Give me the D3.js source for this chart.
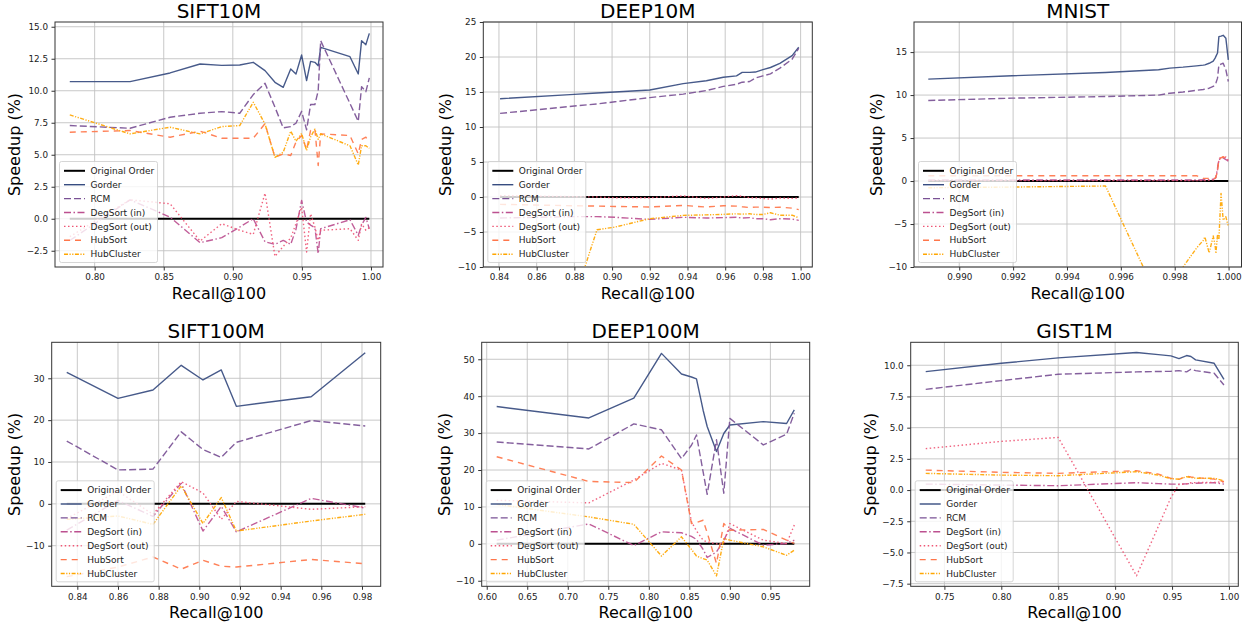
<!DOCTYPE html>
<html><head><meta charset="utf-8">
<script src="https://cdn.jsdelivr.net/npm/d3@7"></script>
<style>body{margin:0;background:#fff}svg{display:block;font-family:"DejaVu Sans",sans-serif}</style>
</head><body><svg id="c" width="1243" height="630"></svg>
<script>
// ---------- legend / series ----------
const methods = ["Original Order","Gorder","RCM","DegSort (in)","DegSort (out)","HubSort","HubCluster"];
const colors  = ["#000000","#374c80","#7a5195","#bc5090","#ef5675","#ff764a","#ffa600"];
const dashes  = [null,null,"7,3","7,2.5,1.5,2.5","1.5,2.5","6,5","4,1.5,1.2,1.5,1.2,1.5"];
const widths  = [2,1.4,1.4,1.4,1.4,1.4,1.4];

// ---------- SIFT10M ----------
const sift10m_x = [0.782,0.8256,0.8546,0.8763,0.892,0.905,0.9148,0.9233,0.9305,0.9365,0.9419,0.9457,0.9498,0.9534,0.9563,0.9594,0.9618,0.9636,0.9848,0.9908,0.9932,0.9963,0.9988];
const sift10m_gorder = [10.71,10.71,11.39,12.09,11.98,12.01,12.22,11.57,10.66,10.27,11.7,11.3,12.79,10.79,12.29,12.22,11.96,13.39,12.66,11.31,13.91,13.6,14.48];
const sift10m_rcm = [7.28,7.07,7.93,8.24,8.37,8.24,9.7,10.58,8.71,7.1,7.2,7.46,8.39,6.94,8.92,8.92,10.0,13.91,9.0,7.61,10.32,9.93,11.0];
const sift10m_degin = [-1.7,1.48,0.13,-1.87,-1.48,-0.65,0,-1.8,-2.0,-1.69,-2.0,-0.83,1.43,-0.26,-0.5,-0.7,-2.73,-0.78,-0.08,-1.3,-0.5,0.1,-0.78];
const sift10m_degout = [-1.4,1.48,1.17,-1.74,-0.39,-0.9,-1.22,2.0,-2.94,-2.16,-1.5,-0.39,0.9,-2.6,0.39,-0.65,-1.69,-0.9,-0.78,-1.69,-0.4,-0.9,-0.7];
const sift10m_hubsort = [6.76,6.89,6.37,6.84,6.29,6.29,6.29,7.43,4.8,5.07,4.94,6.0,6.5,5.4,6.9,7.0,4.16,6.63,6.5,5.07,6.2,6.37,5.98];
const sift10m_hubcluster = [8.11,6.63,7.15,6.63,7.2,7.28,9.1,7.4,4.8,5.2,6.84,6.06,6.66,5.33,6.39,7.0,6.2,6.63,5.7,4.2,5.7,5.7,5.5];
const sift10m_xticks = [0.80,0.85,0.90,0.95,1.00];
const sift10m_yticks = [-2.5,0,2.5,5,7.5,10,12.5,15];

// ---------- DEEP10M ----------
const deep10m_x = [0.8406,0.88,0.892,0.9015,0.92,0.9377,0.95,0.959,0.966,0.969,0.973,0.976,0.98,0.984,0.989,0.9955,0.999];
const deep10m_gorder = [14.04,14.66,14.85,15.0,15.28,16.2,16.6,17.1,17.3,17.8,17.8,17.85,18.2,18.5,19.1,20.2,21.4];
const deep10m_rcm = [11.94,13.0,13.3,13.6,14.2,14.7,15.2,15.8,16.1,16.4,16.5,17.0,17.3,17.6,18.4,19.7,21.25];
const deep10m_degin = [-3.0,-2.8,-2.8,-2.9,-3.2,-2.9,-3.0,-2.95,-2.9,-3.0,-2.95,-3.1,-3.1,-3.25,-3.1,-3.15,-3.34];
const deep10m_degout = [0.2,0.05,0.0,-0.1,-0.1,0.15,-0.2,0.0,0.2,0.1,-0.1,-0.1,-0.2,-0.3,-0.15,-0.2,-0.15];
const deep10m_hubsort = [-1.05,-1.25,-1.3,-1.35,-1.43,-1.2,-1.43,-1.25,-1.3,-1.4,-1.5,-1.45,-1.45,-1.5,-1.45,-1.6,-1.8];
const deep10m_hubcluster = [-22,-14.6,-4.68,-4.3,-3.1,-2.63,-2.55,-2.48,-2.4,-2.45,-2.4,-2.5,-2.5,-2.25,-2.6,-2.6,-2.96];
const deep10m_xticks = [0.84,0.86,0.88,0.90,0.92,0.94,0.96,0.98,1.00];
const deep10m_yticks = [-10,-5,0,5,10,15,20,25];

// ---------- MNIST ----------
const mnist_x = [0.98885,0.99196,0.99543,0.9974,0.99782,0.99831,0.99881,0.99906,0.99912,0.99928,0.99943,0.9995,0.99953,0.99959,0.99964,0.99972,0.9998,0.9999,0.99999];
const mnist_gorder = [11.85,12.24,12.63,12.94,13.14,13.25,13.4,13.48,13.52,13.7,13.95,14.3,14.5,14.9,16.8,16.85,16.95,16.6,14.1];
const mnist_rcm = [9.37,9.64,9.83,10.0,10.22,10.35,10.55,10.65,10.69,10.8,11.0,11.2,11.4,11.97,13.5,13.6,13.7,12.94,11.58];
const mnist_degin = [0.12,0.12,0.12,0.12,0.12,0.12,0.12,0.15,0.15,0.15,0.2,0.3,0.5,1.5,2.5,2.6,2.7,2.5,2.3];
const mnist_degout = [0.05,0.05,0.05,0.05,0.05,0.05,0.05,0.05,0.05,0.1,0.15,0.25,0.4,1.3,2.4,2.9,2.6,2.8,2.4];
const mnist_hubsort = [0.62,0.62,0.62,0.62,0.62,0.62,0.62,0.31,0.31,0.31,0.31,0.31,0.5,1.09,2.53,2.7,2.84,2.6,2.45];
const mnist_hubcluster = [-0.78,-0.7,-0.58,-13.8,-12.1,-10,-7.8,-6.9,-6.5,-8.36,-6.38,-7.5,-8.43,-6.2,-6.8,-1.43,-4.55,-4.16,-5.3];
const mnist_xticks = [0.990,0.992,0.994,0.996,0.998,1.000];
const mnist_yticks = [-10,-5,0,5,10,15];

// ---------- SIFT100M ----------
const sift100m_x = [0.8348,0.86,0.8772,0.8911,0.9018,0.9108,0.9182,0.955,0.9816];
const sift100m_gorder = [31.4,25.2,27.2,33.1,29.6,32.0,23.3,25.6,36.1];
const sift100m_rcm = [15.0,8.1,8.3,17.2,13.0,11.1,14.7,19.9,18.6];
const sift100m_degin = [-6.3,0.8,-3.0,4.9,-6.5,-0.6,-6.7,1.3,-1.0];
const sift100m_degout = [-3.5,3.0,-2.5,5.3,2.6,-3.7,0.6,-1.3,-0.7];
const sift100m_hubsort = [-17.4,-15.1,-12.7,-15.6,-13.5,-14.9,-15.1,-13.3,-14.3];
const sift100m_hubcluster = [-3.7,-2.9,-4.9,4.3,-4.7,1.5,-6.5,-4.1,-2.5];
const sift100m_xticks = [0.84,0.86,0.88,0.90,0.92,0.94,0.96,0.98];
const sift100m_yticks = [-10,0,10,20,30];

// ---------- DEEP100M ----------
const deep100m_x = [0.6123,0.726,0.7815,0.8156,0.8403,0.8526,0.8588,0.867,0.872,0.8835,0.8925,0.90,0.9412,0.97,0.9795];
const deep100m_gorder = [37.2,34.1,39.5,51.6,46.0,45.2,44.7,36.2,31.8,25.0,29.9,32.2,33.1,32.6,36.3];
const deep100m_rcm = [27.6,25.7,32.5,30.9,23.1,26.7,29.5,19.5,13.4,28.2,13.7,34.0,26.8,29.7,35.4];
const deep100m_degin = [1.0,5.4,-0.45,3.25,3.0,2.0,1.2,-1.5,-3.7,-2.2,1.0,4.2,-0.36,0.1,1.0];
const deep100m_degout = [11.8,11.1,17.3,21.8,20.0,6.0,3.5,1.0,0.5,0.0,0.1,5.5,1.0,0.1,5.1];
const deep100m_hubsort = [23.6,16.9,16.6,23.8,20.0,5.5,5.8,6.4,3.0,-5.3,5.5,3.7,3.9,1.0,0.1];
const deep100m_hubcluster = [10.7,7.3,5.3,-3.3,1.9,-1.5,-3.3,-4.0,-4.4,-8.7,1.4,1.0,-0.8,-3.1,-1.7];
const deep100m_xticks = [0.60,0.65,0.70,0.75,0.80,0.85,0.90,0.95];
const deep100m_yticks = [-10,0,10,20,30,40,50];

// ---------- GIST1M ----------
const gist1m_x = [0.7336,0.80,0.85,0.9188,0.938,0.949,0.9561,0.9628,0.9666,0.9707,0.987,0.9956];
const gist1m_gorder = [9.49,10.16,10.59,11.02,10.85,10.75,10.53,10.78,10.7,10.43,10.16,8.87];
const gist1m_rcm = [8.07,8.77,9.28,9.47,9.5,9.52,9.57,9.47,9.68,9.57,9.36,8.42];
const gist1m_degin = [0.48,0.4,0.35,0.59,0.52,0.48,0.48,0.5,0.53,0.55,0.59,0.48];
const gist1m_degout = [3.32,3.9,4.22,-6.87,-2.9,-0.6,0.45,0.5,0.59,0.6,0.62,0.67];
const gist1m_hubsort = [1.6,1.42,1.34,1.55,1.28,0.94,0.86,1.12,1.05,1.0,0.88,0.67];
const gist1m_hubcluster = [1.34,1.2,1.15,1.47,1.2,0.91,0.88,1.07,1.0,0.95,0.94,0.75];
const gist1m_xticks = [0.75,0.80,0.85,0.90,0.95,1.00];
const gist1m_yticks = [-7.5,-5,-2.5,0,2.5,5,7.5,10];

// ---------- panel config (layout) ----------
const panels = [
  {title:"SIFT10M", x:sift10m_x, s:[sift10m_gorder,sift10m_rcm,sift10m_degin,sift10m_degout,sift10m_hubsort,sift10m_hubcluster],
   xdom:[0.7713,1.0087], ydom:[-3.77,15.37], xt:sift10m_xticks, yt:sift10m_yticks, xf:".2f", yf:".1f", box:[55,22,383,267]},
  {title:"DEEP10M", x:deep10m_x, s:[deep10m_gorder,deep10m_rcm,deep10m_degin,deep10m_degout,deep10m_hubsort,deep10m_hubcluster],
   xdom:[0.8317,1.0062], ydom:[-10,25], xt:deep10m_xticks, yt:deep10m_yticks, xf:".2f", yf:"d", box:[483.3,22,812.3,267]},
  {title:"MNIST", x:mnist_x, s:[mnist_gorder,mnist_rcm,mnist_degin,mnist_degout,mnist_hubsort,mnist_hubcluster],
   xdom:[0.98832,1.00048], ydom:[-10,18.5], xt:mnist_xticks, yt:mnist_yticks, xf:".3f", yf:"d", box:[914,22,1241.5,267]},
  {title:"SIFT100M", x:sift100m_x, s:[sift100m_gorder,sift100m_rcm,sift100m_degin,sift100m_degout,sift100m_hubsort,sift100m_hubcluster],
   xdom:[0.8274,0.9892], ydom:[-19.7,38.6], xt:sift100m_xticks, yt:sift100m_yticks, xf:".2f", yf:"d", box:[51.7,342.3,380.7,586.3]},
  {title:"DEEP100M", x:deep100m_x, s:[deep100m_gorder,deep100m_rcm,deep100m_degin,deep100m_degout,deep100m_hubsort,deep100m_hubcluster],
   xdom:[0.5938,0.9985], ydom:[-11.5,54.6], xt:deep100m_xticks, yt:deep100m_yticks, xf:".2f", yf:"d", box:[481.7,342.3,809.7,586.3]},
  {title:"GIST1M", x:gist1m_x, s:[gist1m_gorder,gist1m_rcm,gist1m_degin,gist1m_degout,gist1m_hubsort,gist1m_hubcluster],
   xdom:[0.7204,1.0082], ydom:[-7.71,11.84], xt:gist1m_xticks, yt:gist1m_yticks, xf:".2f", yf:".1f", box:[910.7,342.3,1238.3,586.3]}
];

const svg = d3.select("#c");
const defs = svg.append("defs");
const ink = "#222";

panels.forEach((p,pi)=>{
  const [L,T,R,B] = p.box;
  const xs = d3.scaleLinear().domain(p.xdom).range([L,R]);
  const ys = d3.scaleLinear().domain(p.ydom).range([B,T]);
  const g = svg.append("g");

  // grid
  g.append("g").selectAll("line").data(p.xt).join("line")
    .attr("x1",d=>xs(d)).attr("x2",d=>xs(d)).attr("y1",T).attr("y2",B)
    .attr("stroke","#c2c2c2").attr("stroke-width",0.9);
  g.append("g").selectAll("line").data(p.yt).join("line")
    .attr("y1",d=>ys(d)).attr("y2",d=>ys(d)).attr("x1",L).attr("x2",R)
    .attr("stroke","#c2c2c2").attr("stroke-width",0.9);

  // clip
  const cid = "clip"+pi;
  defs.append("clipPath").attr("id",cid).append("rect")
    .attr("x",L).attr("y",T).attr("width",R-L).attr("height",B-T);
  const lg = g.append("g").attr("clip-path",`url(#${cid})`);

  const line = d3.line().x(d=>xs(d[0])).y(d=>ys(d[1]));
  // original order baseline
  const series = [[[p.x[0],0],[p.x[p.x.length-1],0]]]
    .concat(p.s.map(arr=>arr.map((v,i)=>[p.x[i],v])));
  series.forEach((pts,k)=>{
    lg.append("path").attr("d",line(pts)).attr("fill","none")
      .attr("stroke",colors[k]).attr("stroke-width",widths[k])
      .attr("stroke-opacity",k===0?1:0.92)
      .attr("stroke-dasharray",dashes[k]).attr("stroke-linejoin","round");
  });

  // frame
  g.append("rect").attr("x",L).attr("y",T).attr("width",R-L).attr("height",B-T)
    .attr("fill","none").attr("stroke","#333").attr("stroke-width",1);

  // axes
  const ax = g.append("g").attr("transform",`translate(0,${B})`)
    .call(d3.axisBottom(xs).tickValues(p.xt).tickFormat(d3.format(p.xf)).tickSize(3.5).tickPadding(3.5));
  const ay = g.append("g").attr("transform",`translate(${L},0)`)
    .call(d3.axisLeft(ys).tickValues(p.yt).tickFormat(d3.format(p.yf)).tickSize(3.5).tickPadding(3.5));
  [ax,ay].forEach(a=>{
    a.select(".domain").remove();
    a.attr("font-family","DejaVu Sans").attr("font-size",8.8);
    a.selectAll("line").attr("stroke","#333");
    a.selectAll("text").attr("fill",ink);
  });

  // title
  g.append("text").attr("x",(L+R)/2).attr("y",T-4.5).attr("text-anchor","middle")
    .attr("font-size",20).attr("fill","#000").text(p.title);
  // x label
  g.append("text").attr("x",(L+R)/2).attr("y",B+32).attr("text-anchor","middle")
    .attr("font-size",16).attr("fill","#000").text("Recall@100");
  // y label
  let minX = Infinity;
  ay.selectAll("text").each(function(){ const b=this.getBBox(); minX=Math.min(minX,b.x+L); });
  const lx = minX - 6.5;
  g.append("text").attr("transform",`translate(${lx},${(T+B)/2}) rotate(-90)`)
    .attr("text-anchor","middle").attr("font-size",16).attr("fill","#000").text("Speedup (%)");

  // legend
  const lw = 98, lh = 101;
  const lx0 = L+4.5, ly0 = B-4.5-lh;
  const leg = g.append("g");
  leg.append("rect").attr("x",lx0).attr("y",ly0).attr("width",lw).attr("height",lh)
    .attr("rx",2).attr("fill","#fff").attr("fill-opacity",0.8).attr("stroke","#cccccc").attr("stroke-width",0.8);
  methods.forEach((m,k)=>{
    const cy = ly0 + 9.3 + k*13.9;
    leg.append("line").attr("x1",lx0+4.5).attr("x2",lx0+25.5).attr("y1",cy).attr("y2",cy)
      .attr("stroke",colors[k]).attr("stroke-width",widths[k]).attr("stroke-dasharray",dashes[k]);
    leg.append("text").attr("x",lx0+31).attr("y",cy).attr("dy","0.35em")
      .attr("font-size",9).attr("fill",ink).text(m);
  });
});
</script></body></html>
